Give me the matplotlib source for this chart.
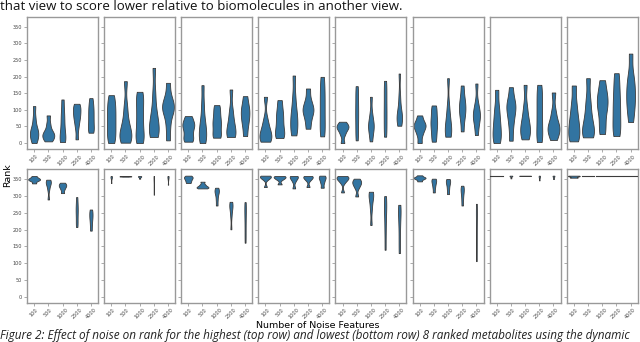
import numpy as np
import matplotlib
matplotlib.use('Agg')
import matplotlib.pyplot as plt

# noise levels on the x axis of every panel
noise_levels = ['100', '500', '1000', '2500', '4000']

# rank samples: top row = 8 highest ranked metabolites
top_ranks = [
    [[0, 12, 22, 30, 38, 50, 75, 111], [5, 12, 20, 25, 30, 40, 58, 83], [3, 10, 25, 45, 70, 95, 131],
     [11, 45, 65, 78, 88, 100, 110, 118], [31, 40, 55, 70, 85, 100, 115, 135]],
    [[0, 20, 40, 60, 80, 100, 120, 144], [1, 10, 20, 30, 45, 70, 110, 186], [0, 15, 35, 60, 85, 110, 135, 154],
     [18, 25, 40, 55, 75, 100, 150, 226], [8, 50, 85, 100, 110, 120, 140, 181]],
    [[4, 15, 30, 45, 55, 65, 81], [0, 10, 25, 40, 55, 80, 120, 174], [16, 25, 45, 60, 75, 95, 114],
     [18, 22, 35, 50, 70, 100, 161], [21, 50, 70, 85, 100, 115, 141]],
    [[4, 10, 20, 30, 45, 70, 139], [15, 25, 40, 60, 80, 100, 129], [23, 40, 60, 80, 100, 140, 203],
     [43, 70, 90, 100, 110, 130, 164], [20, 45, 75, 105, 135, 165, 199]],
    [[0, 25, 38, 45, 50, 55, 64], [8, 35, 65, 90, 115, 145, 171], [5, 30, 45, 55, 65, 90, 139],
     [19, 45, 75, 100, 130, 160, 187], [52, 65, 75, 85, 100, 140, 209]],
    [[0, 25, 40, 50, 55, 65, 83], [4, 25, 45, 60, 75, 95, 113], [19, 25, 40, 55, 75, 110, 195],
     [35, 70, 90, 105, 120, 140, 173], [24, 55, 75, 85, 95, 120, 179]],
    [[0, 15, 35, 55, 80, 110, 160], [7, 50, 80, 100, 115, 130, 168], [11, 25, 40, 55, 75, 110, 175],
     [3, 25, 55, 85, 115, 145, 175], [9, 30, 40, 50, 65, 95, 152]],
    [[5, 20, 40, 60, 85, 120, 173], [17, 25, 40, 60, 90, 130, 195], [27, 60, 95, 115, 135, 155, 189],
     [21, 45, 75, 105, 135, 170, 210], [63, 100, 125, 150, 175, 205, 269]],
]

# bottom row = 8 lowest ranked metabolites
bottom_ranks = [
    [[338, 345, 348, 350, 352, 355, 360], [290, 320, 335, 340, 344, 349], [309, 320, 327, 331, 335, 340],
     [208, 225, 245, 260, 275, 297], [197, 215, 230, 240, 250, 260]],
    [[339, 352, 356, 358, 360], [358, 359, 359, 360], [352, 356, 358, 359, 360],
     [304, 340, 355, 358, 360], [334, 350, 356, 358, 360]],
    [[339, 345, 350, 354, 357, 361], [323, 325, 327, 330, 335, 343], [272, 290, 305, 313, 318, 325],
     [201, 240, 260, 270, 276, 283], [161, 190, 220, 245, 265, 282]],
    [[327, 350, 355, 358, 360, 361], [335, 350, 355, 358, 360], [323, 345, 355, 358, 360],
     [327, 348, 355, 358, 360], [325, 340, 350, 356, 361]],
    [[311, 340, 348, 352, 355, 358, 360], [299, 325, 335, 340, 345, 352], [214, 260, 285, 300, 308, 313],
     [140, 190, 230, 260, 280, 300], [130, 170, 210, 240, 260, 274]],
    [[344, 350, 353, 355, 357, 362], [311, 325, 335, 342, 348, 352], [306, 320, 332, 340, 346, 351],
     [272, 290, 305, 315, 323, 331], [106, 150, 190, 230, 255, 277]],
    [[361, 361, 361], [353, 359, 360, 361], [360, 360.5, 361],
     [347, 355, 359, 361], [351, 357, 360, 361]],
    [[355, 359, 361], [361, 361, 361], [361, 361, 361],
     [361, 361, 361], [361, 361, 361]],
]

fill_col = '#3274a1'
edge_col = '#3c3c3c'
bw_adjust = 0.6


def kde(vals, grid):
    vals = np.asarray(vals, float)
    bw = bw_adjust * len(vals) ** (-0.2) * vals.std(ddof=1)
    z = (grid[:, None] - vals[None, :]) / bw
    return np.exp(-0.5 * z ** 2).sum(1) / (len(vals) * bw * np.sqrt(2 * np.pi))


def draw_violins(ax, groups):
    curves = []
    for vals in groups:
        lo, hi = min(vals), max(vals)
        if hi - lo == 0:
            curves.append(None)  # all the same rank -> flat line
            continue
        grid = np.linspace(lo, hi, 120)
        curves.append((grid, kde(vals, grid)))
    peaks = [c[1].max() for c in curves if c is not None]
    peak = max(peaks) if peaks else 1
    for i, (vals, c) in enumerate(zip(groups, curves)):
        if c is None:
            ax.plot([i - 0.45, i + 0.45], [vals[0], vals[0]], color=edge_col, lw=0.8, zorder=3)
            continue
        grid, dens = c
        w = 0.42 * dens / peak
        ax.fill_betweenx(grid, i - w, i + w, facecolor=fill_col, edgecolor=edge_col, lw=0.6, zorder=2)


fig = plt.figure(figsize=(6.4, 3.42), dpi=100)
W, H = 640.0, 342.0
lefts = [27 + k * 77.1 for k in range(8)]
pw = 71
rows = [(16.7, 149.0, top_ranks), (169.3, 302.7, bottom_ranks)]

for top, bot, data in rows:
    for k in range(8):
        ax = fig.add_axes([lefts[k] / W, 1 - bot / H, pw / W, (bot - top) / H])
        draw_violins(ax, data[k])
        ax.set_xlim(-0.5, 4.5)
        ax.set_ylim(-18, 380)
        ax.set_yticks(range(0, 351, 50))
        ax.set_xticks(range(5))
        ax.set_xticklabels(noise_levels, rotation=45, fontsize=3.6, color='#444444')
        if k == 0:
            ax.tick_params(axis='y', labelsize=3.6, labelcolor='#444444')
        else:
            ax.set_yticklabels([])
        ax.tick_params(length=2, width=0.5, color='#888888', pad=1.5)
        for s in ax.spines.values():
            s.set_color('#999999')
            s.set_linewidth(1.0)

fig.text(318 / W, 1 - 326 / H, 'Number of Noise Features', ha='center', va='center', fontsize=6.8)
fig.text(8 / W, 1 - 175 / H, 'Rank', ha='center', va='center', rotation=90, fontsize=6.8)

# surrounding page text that is part of the screenshot
fig.text(0.0, 1 - 9.5 / H, 'that view to score lower relative to biomolecules in another view.',
         ha='left', va='baseline', fontsize=9.5, family='Open Sans', color='#111111')
fig.text(0.0, 1 - 339.5 / H, 'Figure 2: Effect of noise on rank for the highest (top row) and lowest (bottom row) '
         '8 ranked metabolites using the dynamic', ha='left', va='baseline', fontsize=8.5,
         family='Open Sans', style='italic', color='#222222')

fig.savefig('out.png', dpi=100)
